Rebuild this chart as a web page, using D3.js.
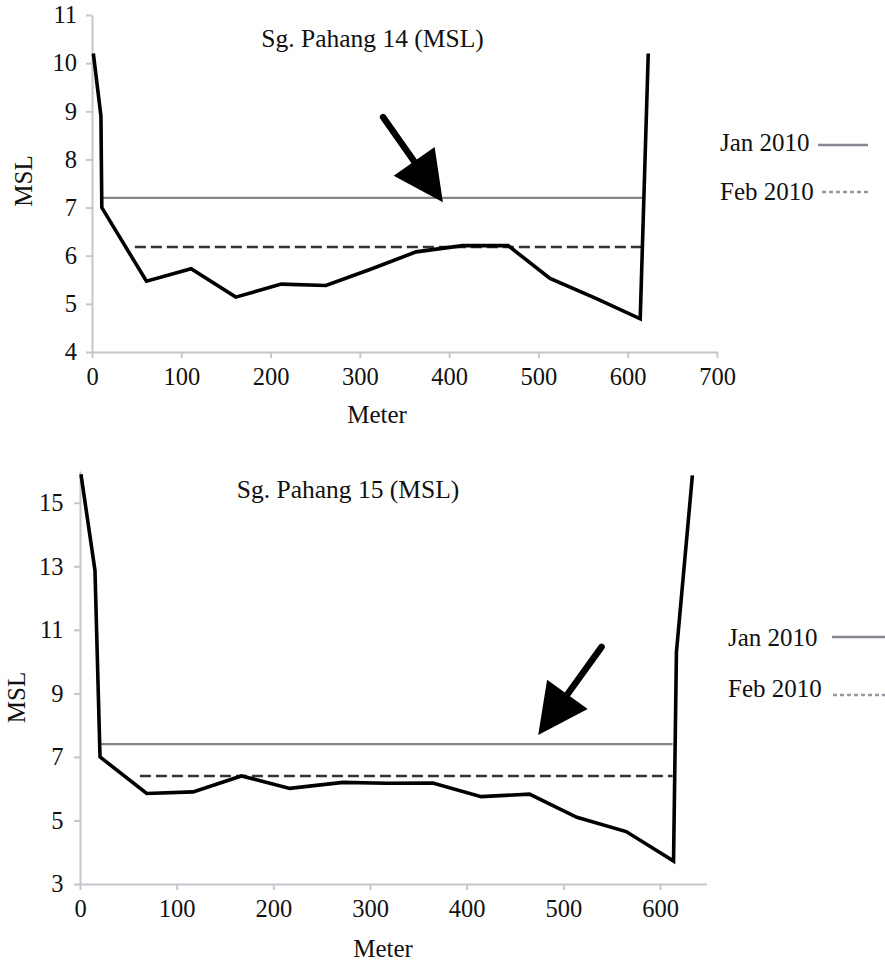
<!DOCTYPE html>
<html><head><meta charset="utf-8">
<script src="https://cdn.jsdelivr.net/npm/d3@7"></script>
<style>html,body{margin:0;padding:0;background:#fff}svg{display:block}text{font-family:"Liberation Serif","Times New Roman",serif;fill:#111}</style>
</head><body>
<script>
// ---- Data: Sg. Pahang 14 ----
const title14 = "Sg. Pahang 14 (MSL)";
const dist14 = [1.5, 10, 11, 61, 111, 161, 212, 262, 312, 363, 415, 466, 513, 565, 614, 623];
const elev14 = [10.2, 8.9, 7.0, 5.47, 5.73, 5.14, 5.41, 5.38, 5.72, 6.08, 6.21, 6.21, 5.53, 5.11, 4.69, 10.2];
const jan14 = {x0: 11, x1: 617, level: 7.2};
const feb14 = {x0: 48, x1: 617, level: 6.18};
const xTicks14 = [0, 100, 200, 300, 400, 500, 600, 700];
const yTicks14 = [4, 5, 6, 7, 8, 9, 10, 11];
const arrow14 = {tail: [326, 8.88], tip: [393, 7.11]};

// ---- Data: Sg. Pahang 15 ----
const title15 = "Sg. Pahang 15 (MSL)";
const dist15 = [1, 15.5, 20.7, 69, 117, 167, 217, 272, 317, 365, 415, 465, 514, 565, 614, 617, 633.5];
const elev15 = [15.9, 12.87, 7.0, 5.85, 5.9, 6.4, 6.01, 6.2, 6.17, 6.18, 5.75, 5.83, 5.1, 4.65, 3.72, 10.3, 15.86];
const jan15 = {x0: 20.7, x1: 613, level: 7.4};
const feb15 = {x0: 62, x1: 613, level: 6.4};
const xTicks15 = [0, 100, 200, 300, 400, 500, 600];
const yTicks15 = [3, 5, 7, 9, 11, 13, 15];
const arrow15 = {tail: [539.5, 10.46], tip: [474, 7.69]};

const legendLabels = ["Jan 2010", "Feb 2010"];

const svg = d3.select("body").append("svg").attr("width", 885).attr("height", 965);

function txt(x, y, s, size, anchor, rot) {
  return svg.append("text")
    .attr("transform", `translate(${x},${y})` + (rot ? " rotate(-90)" : ""))
    .attr("text-anchor", anchor).style("font-size", size + "px").text(s);
}

function panel(cfg) {
  const {x, y, dist, elev, jan, feb, xTicks, yTicks, arrow} = cfg;
  const g = svg.append("g");
  const axisColor = "#c9c4cd";
  const xa = g.append("g").attr("transform", `translate(0,${y.range()[0]})`)
    .call(d3.axisBottom(x).tickValues(xTicks).tickSize(6).tickSizeOuter(0).tickPadding(cfg.xPad).tickFormat(d3.format("d")));
  const ya = g.append("g").attr("transform", `translate(${x.range()[0]},0)`)
    .call(d3.axisLeft(y).tickValues(yTicks).tickSize(6).tickSizeOuter(0).tickPadding(cfg.yPad).tickFormat(d3.format("d")));
  [xa, ya].forEach(a => {
    a.select(".domain").attr("stroke", axisColor).attr("stroke-width", 2);
    a.selectAll(".tick line").attr("stroke", axisColor).attr("stroke-width", 2);
    a.selectAll(".tick text").attr("fill", "#111").style("font-family", '"Liberation Serif",serif')
      .style("font-size", cfg.tickSize + "px");
  });
  // Jan line
  g.append("line").attr("x1", x(jan.x0)).attr("x2", x(jan.x1)).attr("y1", y(jan.level)).attr("y2", y(jan.level))
    .attr("stroke", "#858585").attr("stroke-width", 2.2);
  // Feb dashed
  g.append("line").attr("x1", x(feb.x0)).attr("x2", x(feb.x1)).attr("y1", y(feb.level)).attr("y2", y(feb.level))
    .attr("stroke", "#333").attr("stroke-width", 2.6).attr("stroke-dasharray", "11,5");
  // profile
  const pts = dist.map((d, i) => [d, elev[i]]);
  g.append("path").datum(pts)
    .attr("d", d3.line().x(d => x(d[0])).y(d => y(d[1])))
    .attr("fill", "none").attr("stroke", "#000").attr("stroke-width", 3.6).attr("stroke-linejoin", "miter");
  // arrow
  const tx = x(arrow.tail[0]), ty = y(arrow.tail[1]);
  const px = x(arrow.tip[0]), py = y(arrow.tip[1]);
  const dx = px - tx, dy = py - ty, L = Math.hypot(dx, dy);
  const ux = dx / L, uy = dy / L, nx = -uy, ny = ux;
  const hl = 50, hw = 25;
  const bx = px - ux * hl, by = py - uy * hl;
  g.append("line").attr("x1", tx).attr("y1", ty).attr("x2", bx + ux * 4).attr("y2", by + uy * 4)
    .attr("stroke", "#000").attr("stroke-width", 6.5).attr("stroke-linecap", "round");
  g.append("path").attr("d", `M${px},${py}L${bx + nx * hw},${by + ny * hw}L${bx - nx * hw},${by - ny * hw}Z`).attr("fill", "#000");
}

const x14 = d3.scaleLinear().domain([0, 700]).range([92, 717]);
const y14 = d3.scaleLinear().domain([4, 11]).range([352, 15]);
panel({x: x14, y: y14, dist: dist14, elev: elev14, jan: jan14, feb: feb14, xTicks: xTicks14, yTicks: yTicks14, arrow: arrow14, xPad: 10, yPad: 9, tickSize: 24.5});

const x15 = d3.scaleLinear().domain([0, 648]).range([80, 706.4]);
const y15 = d3.scaleLinear().domain([3, 16]).range([884, 471]);
panel({x: x15, y: y15, dist: dist15, elev: elev15, jan: jan15, feb: feb15, xTicks: xTicks15, yTicks: yTicks15, arrow: arrow15, xPad: 10, yPad: 10.5, tickSize: 24.5});

// titles and axis labels
txt(372.5, 47, title14, 25.5, "middle");
txt(348, 498, title15, 25.5, "middle");
txt(377, 423, "Meter", 25, "middle");
txt(383, 956.5, "Meter", 25, "middle");
txt(32, 181, "MSL", 25, "middle", true);
txt(25, 697.5, "MSL", 25, "middle", true);

// legends
function legend(lx, ys, lineX0, lineX1, lineYs) {
  txt(lx, ys[0], legendLabels[0], 25, "start");
  txt(lx, ys[1], legendLabels[1], 25, "start");
  svg.append("line").attr("x1", lineX0[0]).attr("x2", lineX1).attr("y1", lineYs[0]).attr("y2", lineYs[0])
    .attr("stroke", "#8a8590").attr("stroke-width", 2.5);
  svg.append("line").attr("x1", lineX0[1]).attr("x2", lineX1).attr("y1", lineYs[1]).attr("y2", lineYs[1])
    .attr("stroke", "#9a959e").attr("stroke-width", 2.5).attr("stroke-dasharray", "4,3");
}
legend(720, [151, 200], [818, 822], 868, [145, 192]);
legend(728, [646, 697], [832, 833], 885, [637, 695]);
</script>
</body></html>
